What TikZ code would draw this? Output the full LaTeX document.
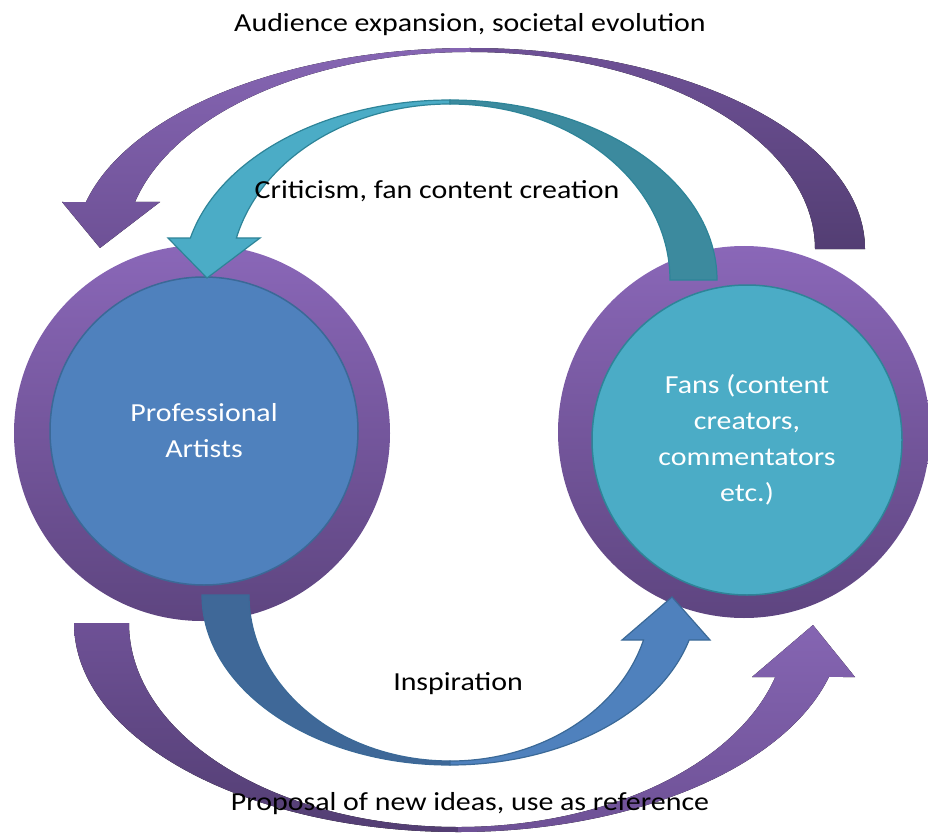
\documentclass[tikz,border=0pt]{standalone}
\usepackage{fontspec}
\setmainfont[FakeStretch=1.15]{Carlito}

\definecolor{ringtop}{HTML}{8A67B8}
\definecolor{ringbot}{HTML}{5E4580}
\definecolor{artistblue}{HTML}{4F81BD}
\definecolor{artistline}{HTML}{3B6997}
\definecolor{fanteal}{HTML}{4BACC6}
\definecolor{fanline}{HTML}{2E8498}
\definecolor{tealback}{HTML}{3C8A9E}
\definecolor{blueback}{HTML}{3F6898}
\definecolor{purplelight}{HTML}{8565B2}
\definecolor{purplemid}{HTML}{6E5196}
\definecolor{purpledark}{HTML}{533E73}

\tikzset{
	ring/.style={
		circle, inner sep=0pt,
		top color=ringtop, bottom color=ringbot
	},
	core/.style={
		circle, inner sep=0pt, line width=1.5pt,
		text=white, align=center,
		font=\fontsize{26}{36}\selectfont
	},
	flowlabel/.style={
		anchor=base, inner sep=0pt,
		font=\fontsize{26}{30}\selectfont
	},
	tealband/.style={draw=fanline, line width=1.2pt},
	blueband/.style={draw=artistline, line width=1.2pt}
}

\begin{document}
\begin{tikzpicture}[x=1pt,y=-1pt]
	\useasboundingbox (0,0) rectangle (928,834);

	% the two circles
	\node[ring,minimum size=376pt] (artistring) at (202,433) {};
	\node[core,fill=artistblue,draw=artistline,minimum size=308pt]
		(artists) at (204,431) {Professional\\Artists};
	\node[ring,minimum size=372pt] (fanring) at (744,432) {};
	\node[core,fill=fanteal,draw=fanline,minimum size=310pt]
		(fans) at (747,440) {Fans (content\\creators,\\commentators\\etc.)};

	% outer arrow over the top, fans -> artists
	\fill[top color=purplelight,bottom color=purplemid]
		(470,48) arc[start angle=270,end angle=193.52,x radius=395,y radius=201]
		-- (62,202) -- (100,248) -- (160,202) -- (135,202)
		arc[start angle=193.8,end angle=270,x radius=345,y radius=197] -- cycle;
	\fill[top color=purplemid,bottom color=purpledark]
		(470,48) arc[start angle=270,end angle=360,x radius=395,y radius=201]
		-- (815,249)
		arc[start angle=0,end angle=-90,x radius=345,y radius=197] -- cycle;

	% inner arrow over the top, fans -> artists
	\filldraw[tealband,fill=fanteal]
		(450,100) arc[start angle=270,end angle=193.49,x radius=267,y radius=180]
		-- (168,238) -- (207,278) -- (260,238) -- (236.4,238)
		arc[start angle=193.8,end angle=270,x radius=220,y radius=176] -- cycle;
	\filldraw[tealband,fill=tealback]
		(450,100) arc[start angle=270,end angle=360,x radius=267,y radius=180]
		-- (670,280)
		arc[start angle=0,end angle=-90,x radius=220,y radius=176] -- cycle;

	% inner arrow underneath, artists -> fans
	\filldraw[blueband,fill=blueback]
		(202,595) arc[start angle=180,end angle=90,x radius=248,y radius=170]
		-- (450,761)
		arc[start angle=90,end angle=180,x radius=201,y radius=166] -- cycle;
	\filldraw[blueband,fill=artistblue]
		(450,765) arc[start angle=90,end angle=15.35,x radius=248,y radius=170]
		-- (710,640) -- (672,597) -- (622,640) -- (643.5,640)
		arc[start angle=15.72,end angle=90,x radius=201,y radius=166] -- cycle;

	% outer arrow underneath, artists -> fans
	\fill[top color=purplemid,bottom color=purpledark]
		(74,623) arc[start angle=180,end angle=90,x radius=384,y radius=209]
		-- (458,827)
		arc[start angle=90,end angle=180,x radius=329,y radius=204] -- cycle;
	\fill[top color=purplelight,bottom color=purplemid]
		(458,832) arc[start angle=90,end angle=14.97,x radius=384,y radius=209]
		-- (855,677) -- (813,625) -- (752,677) -- (775.3,677)
		arc[start angle=15.35,end angle=90,x radius=329,y radius=204] -- cycle;

	% arrow labels
	\node[flowlabel] (expand)   at (470,32)  {Audience expansion, societal evolution};
	\node[flowlabel] (critique) at (437,199) {Criticism, fan content creation};
	\node[flowlabel] (inspire)  at (458,690) {Inspiration};
	\node[flowlabel] (propose)  at (470,810) {Proposal of new ideas, use as reference};
\end{tikzpicture}
\end{document}
